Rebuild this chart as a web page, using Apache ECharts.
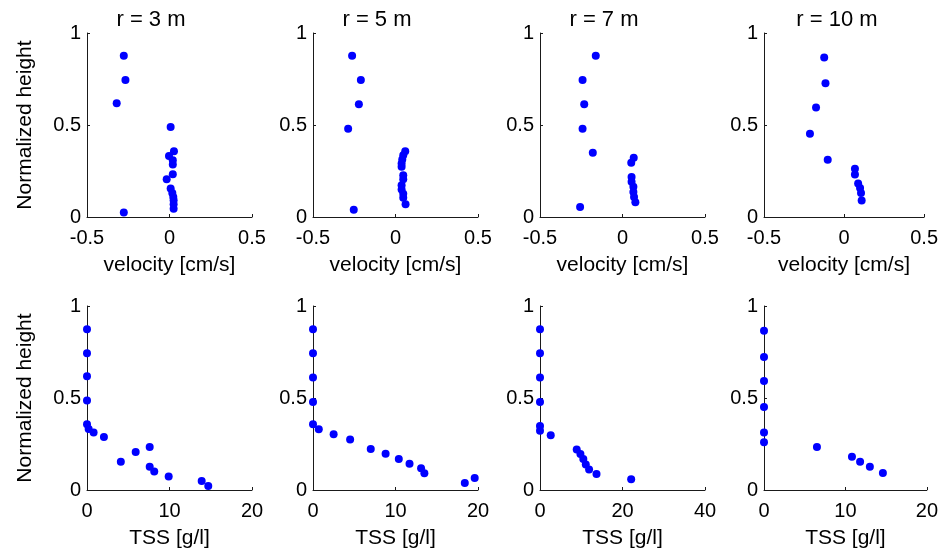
<!DOCTYPE html>
<html>
<head>
<meta charset="utf-8">
<script src="https://cdn.jsdelivr.net/npm/echarts@6/dist/echarts.min.js"></script>
<style>
  html, body { margin: 0; padding: 0; background: #fff; }
  #chart { width: 941px; height: 551px; }
</style>
</head>
<body>
<div id="chart"></div>
<script>
// panel titles
const titles = ['r = 3 m', 'r = 5 m', 'r = 7 m', 'r = 10 m']

// velocity profiles (top row)
const vel3 = [-0.277, -0.267, -0.32, 0.007, 0.027, -0.003, 0.02, 0.02, 0.02, -0.017, 0.007, 0.017, 0.023, 0.025, 0.025, 0.025, -0.277]
const vel3H = [0.876, 0.745, 0.618, 0.489, 0.358, 0.331, 0.309, 0.285, 0.233, 0.205, 0.155, 0.131, 0.109, 0.091, 0.069, 0.045, 0.024]
const vel5 = [-0.263, -0.21, -0.222, -0.287, 0.059, 0.047, 0.041, 0.037, 0.037, 0.047, 0.047, 0.037, 0.037, 0.047, 0.047, 0.061, -0.253]
const vel5H = [0.876, 0.745, 0.613, 0.48, 0.358, 0.336, 0.313, 0.291, 0.273, 0.227, 0.205, 0.173, 0.149, 0.127, 0.105, 0.069, 0.04]
const vel7 = [-0.162, -0.242, -0.232, -0.242, -0.18, 0.068, 0.053, 0.055, 0.055, 0.066, 0.066, 0.07, 0.078, -0.257]
const vel7H = [0.876, 0.745, 0.613, 0.48, 0.349, 0.322, 0.295, 0.218, 0.191, 0.164, 0.136, 0.109, 0.08, 0.055]
const vel10 = [-0.124, -0.116, -0.175, -0.213, -0.102, 0.068, 0.068, 0.088, 0.1, 0.106, 0.11]
const vel10H = [0.867, 0.727, 0.595, 0.453, 0.311, 0.262, 0.231, 0.182, 0.158, 0.131, 0.089]

// TSS profiles (bottom row)
const tss3 = [0, 0, 0, 0, 0, 0.2, 0.8, 2.05, 4.1, 5.9, 7.6, 7.6, 8.15, 9.9, 13.9, 14.7]
const tss3H = [0.873, 0.743, 0.618, 0.486, 0.357, 0.332, 0.312, 0.288, 0.154, 0.207, 0.234, 0.127, 0.1, 0.074, 0.049, 0.022]
const tss5 = [0, 0, 0, 0, 0, 0.7, 2.5, 4.5, 7.0, 8.8, 10.4, 11.7, 13.1, 13.5, 18.4, 19.6]
const tss5H = [0.873, 0.743, 0.611, 0.478, 0.357, 0.33, 0.303, 0.275, 0.223, 0.197, 0.168, 0.143, 0.118, 0.091, 0.038, 0.065]
const tss7 = [0, 0, 0, 0, 0, 0, 2.6, 8.9, 9.8, 10.5, 11.1, 11.9, 13.7, 22.1]
const tss7H = [0.873, 0.743, 0.611, 0.478, 0.348, 0.322, 0.297, 0.22, 0.196, 0.168, 0.138, 0.112, 0.087, 0.058]
const tss10 = [0, 0, 0, 0, 0, 0, 6.5, 10.8, 11.8, 13.0, 14.6]
const tss10H = [0.866, 0.723, 0.592, 0.451, 0.312, 0.259, 0.234, 0.181, 0.154, 0.127, 0.092]

// axis ranges
const velRange = [-0.5, 0.5, 0.5]
const tssRanges = [[0, 20, 10], [0, 20, 10], [0, 40, 20], [0, 20, 10]]
const heightRange = [0, 1, 0.5]

const topSeries = [[vel3, vel3H], [vel5, vel5H], [vel7, vel7H], [vel10, vel10H]]
const botSeries = [[tss3, tss3H], [tss5, tss5H], [tss7, tss7H], [tss10, tss10H]]

const lefts = [87, 313, 540, 764]
const titleX = [151, 377, 604, 837]
const pw = 165, ph = 184
const rowTop = [33, 306]
const font = 'Liberation Sans, Arial, sans-serif'
const ink = '#1a1a1a'

const zip = (xs, ys) => xs.map((x, i) => [x, ys[i]])

const grid = [], xAxis = [], yAxis = [], series = []

const axisBase = {
  axisLine: { show: true, onZero: false, lineStyle: { color: ink, width: 1 } },
  axisTick: { show: true, inside: true, length: 3, lineStyle: { color: ink } },
  splitLine: { show: false },
  axisLabel: { color: '#000', fontSize: 20, fontFamily: font, showMinLabel: true, showMaxLabel: true, hideOverlap: false },
  nameTextStyle: { color: '#000', fontSize: 21, fontFamily: font }
}

for (let r = 0; r < 2; r++) {
  for (let c = 0; c < 4; c++) {
    const idx = r * 4 + c
    grid.push({ left: lefts[c], top: rowTop[r], width: pw, height: ph })
    const xr = r === 0 ? velRange : tssRanges[c]
    xAxis.push(Object.assign({}, axisBase, {
      type: 'value', gridIndex: idx, min: xr[0], max: xr[1], interval: xr[2],
      name: r === 0 ? 'velocity [cm/s]' : 'TSS [g/l]',
      nameLocation: 'middle', nameGap: 38,
      axisLabel: Object.assign({}, axisBase.axisLabel, { margin: 11 })
    }))
    yAxis.push(Object.assign({}, axisBase, {
      type: 'value', gridIndex: idx, min: heightRange[0], max: heightRange[1], interval: heightRange[2],
      name: c === 0 ? 'Normalized height' : '',
      nameLocation: 'middle', nameGap: 51,
      axisLabel: Object.assign({}, axisBase.axisLabel, { margin: 6 })
    }))
    const d = r === 0 ? topSeries[c] : botSeries[c]
    series.push({
      type: 'scatter', xAxisIndex: idx, yAxisIndex: idx,
      symbol: 'circle', symbolSize: 8,
      itemStyle: { color: '#0000ff', opacity: 1 },
      data: zip(d[0], d[1])
    })
  }
}

const chart = echarts.init(document.getElementById('chart'))
chart.setOption({
  animation: false,
  backgroundColor: '#fff',
  grid, xAxis, yAxis, series,
  graphic: titles.map((t, i) => ({
    type: 'text', x: titleX[i], y: 20,
    style: { text: t, fill: '#000', font: '22px ' + font, textAlign: 'center', textVerticalAlign: 'middle' }
  }))
})
</script>
</body>
</html>
